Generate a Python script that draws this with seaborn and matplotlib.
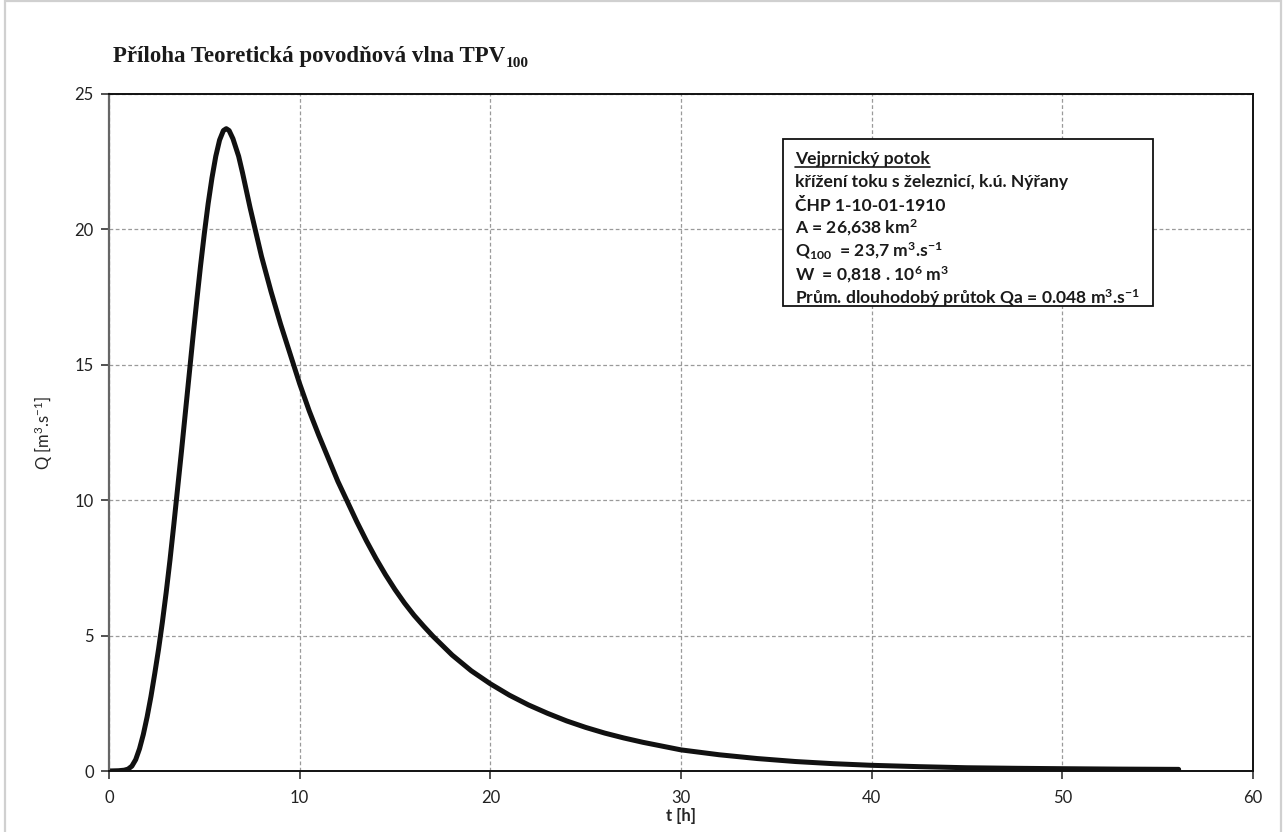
import numpy as np
import pandas as pd
import seaborn as sns
import matplotlib.pyplot as plt
from matplotlib.patches import Rectangle
from matplotlib.lines import Line2D

# hydrograph
t_hours = [0, 0.5, 0.8, 1.0, 1.2, 1.4, 1.6, 1.8, 2.0, 2.2, 2.4, 2.6, 2.8,
           3.0, 3.2, 3.4, 3.6, 3.8, 4.0, 4.2, 4.4, 4.6, 4.8, 5.0, 5.2, 5.4,
           5.6, 5.8, 6.0, 6.15, 6.3, 6.5, 6.8, 7.0, 7.2, 7.4, 7.6, 8.0, 8.5,
           9.0, 9.5, 10.0, 10.5, 11.0, 11.5, 12.0, 12.5, 13.0, 13.5, 14.0,
           14.5, 15.0, 15.5, 16.0, 16.5, 17.0, 18.0, 19.0, 20.0, 21.0, 22.0,
           23.0, 24.0, 25.0, 26.0, 27.0, 28.0, 29.0, 30.0, 32.0, 34.0, 36.0,
           38.0, 40.0, 42.5, 45.0, 47.5, 50.0, 53.0, 56.1]
q_flow = [0, 0.01, 0.03, 0.07, 0.18, 0.42, 0.82, 1.35, 2.0, 2.75, 3.6, 4.5,
          5.5, 6.6, 7.8, 9.1, 10.45, 11.8, 13.2, 14.6, 16.0, 17.35, 18.65,
          19.85, 20.95, 21.9, 22.7, 23.3, 23.65, 23.72, 23.65, 23.35, 22.7,
          22.1, 21.45, 20.8, 20.2, 19.0, 17.7, 16.5, 15.4, 14.3, 13.3, 12.4,
          11.55, 10.7, 9.95, 9.2, 8.5, 7.85, 7.25, 6.7, 6.2, 5.75, 5.35, 4.97,
          4.28, 3.7, 3.22, 2.8, 2.44, 2.13, 1.85, 1.61, 1.4, 1.22, 1.06, 0.92,
          0.78, 0.6, 0.46, 0.35, 0.27, 0.21, 0.16, 0.12, 0.1, 0.085, 0.07, 0.06]

x_ticks = [0, 10, 20, 30, 40, 50, 60]
y_ticks = [0, 5, 10, 15, 20, 25]

title = 'Příloha Teoretická povodňová vlna TPV'
title_sub = '100'
info_lines = [
    'Vejprnický potok',
    'křížení toku s železnicí, k.ú. Nýřany',
    'ČHP 1-10-01-1910',
    r'A = 26,638 km$^{\mathbf{2}}$',
    r'Q$_{\mathbf{100}}$  = 23,7 m$^{\mathbf{3}}$.s$^{\mathbf{-1}}$',
    r'W  = 0,818 . 10$^{\mathbf{6}}$ m$^{\mathbf{3}}$',
    r'Prům. dlouhodobý průtok Qa = 0.048 m$^{\mathbf{3}}$.s$^{\mathbf{-1}}$',
]

sns.set_theme(style='white')
plt.rcParams['font.family'] = ['Lato', 'DejaVu Sans']
plt.rcParams['mathtext.fontset'] = 'custom'
plt.rcParams['mathtext.rm'] = 'Lato'
plt.rcParams['mathtext.bf'] = 'Lato:bold'
plt.rcParams['mathtext.it'] = 'Lato:italic'

W, H = 1283, 832
fig = plt.figure(figsize=(W / 100, H / 100), dpi=100)
ax = fig.add_axes([109 / W, (H - 771) / H, 1144 / W, 677 / H])

df = pd.DataFrame({'t': t_hours, 'Q': q_flow})
sns.lineplot(data=df, x='t', y='Q', ax=ax, color='#111111', lw=3.6,
             sort=False, estimator=None)

ax.set_xlim(0, 60)
ax.set_ylim(0, 25)
ax.set_xticks(x_ticks)
ax.set_yticks(y_ticks)
ax.grid(True, color='#9a9a9a', ls=(0, (3, 2)), lw=0.9)
for side in ['top', 'right', 'bottom']:
    ax.spines[side].set_color('#111111')
    ax.spines[side].set_linewidth(1.4)
ax.spines['left'].set_color('#666666')
ax.spines['left'].set_linewidth(1.6)
ax.tick_params(axis='both', direction='out', length=6, width=1.2,
               color='#333333', labelsize=12, labelcolor='#222222', pad=5,
               left=True, bottom=True)
ax.tick_params(axis='x', pad=8)

ax.set_xlabel('t [h]', fontsize=12, fontweight='bold', labelpad=1)
ax.set_ylabel(r'Q [m$^{3}$.s$^{-1}$]', fontsize=12, labelpad=14)

# title with subscript
fig.text(113 / W, 1 - 62 / H, title, family='Liberation Serif',
         fontweight='bold', fontsize=16.5, va='baseline', color='#1a1a1a')
fig.canvas.draw()
r = fig.canvas.get_renderer()
tb = fig.texts[-1].get_window_extent(r)
fig.text(tb.x1 / W + 1 / W, 1 - 67 / H, title_sub, family='Liberation Serif',
         fontweight='bold', fontsize=11, va='baseline', color='#1a1a1a')

# info box
def ay(py):
    return (771 - py) / 677

box = Rectangle(((783 - 109) / 1144, ay(306)), (1153 - 783) / 1144,
                ay(139) - ay(306), transform=ax.transAxes, fill=True,
                facecolor='white', edgecolor='#111111', lw=1.3, zorder=5)
ax.add_patch(box)
tx = (795 - 109) / 1144
texts = []
for i, line in enumerate(info_lines):
    yb = 164 + i * 23.3
    texts.append(ax.text(tx, ay(yb), line, transform=ax.transAxes,
                         fontsize=12.6, fontweight='bold', color='#1a1a1a',
                         va='baseline', ha='left', zorder=6))

fig.canvas.draw()
bb = texts[0].get_window_extent(fig.canvas.get_renderer())
inv = ax.transAxes.inverted()
x0, _ = inv.transform((bb.x0, bb.y0))
x1, _ = inv.transform((bb.x1, bb.y0))
ax.add_line(Line2D([x0, x1], [ay(167), ay(167)], transform=ax.transAxes,
                   color='#1a1a1a', lw=1.2, zorder=6))

# outer chart frame
fig.patches.append(Rectangle((5 / W, -0.01), 1276 / W, 1.0 - 1 / H + 0.01,
                             transform=fig.transFigure, fill=False,
                             edgecolor='#d0d0d0', lw=1.6))

fig.savefig('out.png', dpi=100)
